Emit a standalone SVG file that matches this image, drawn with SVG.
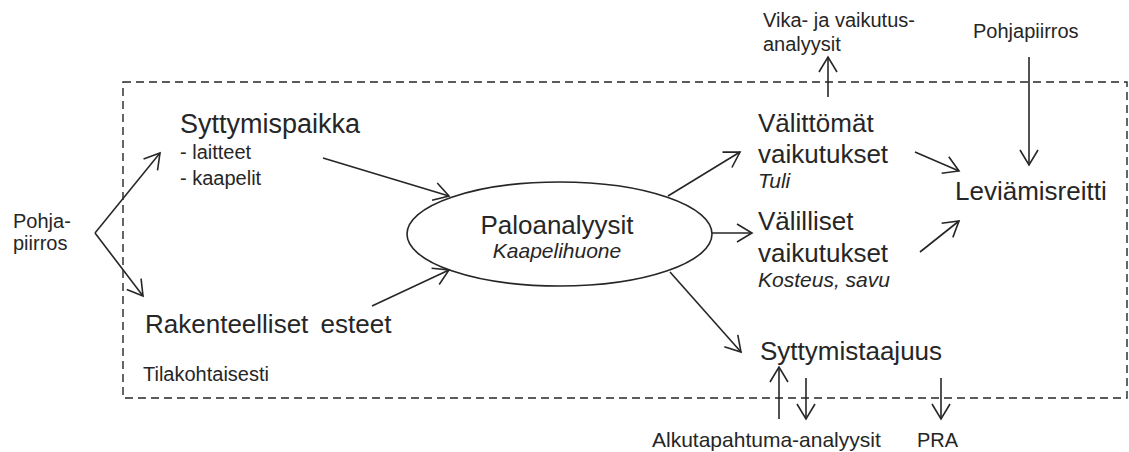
<svg xmlns="http://www.w3.org/2000/svg" width="1129" height="452" viewBox="0 0 1129 452">
  <style>
    text { font-family: "Liberation Sans", Arial, sans-serif; fill: #262626; }
    .big { font-size: 26px; }
    .small { font-size: 20px; }
    .note { font-size: 21px; font-style: italic; }
    .edge { stroke: #262626; stroke-width: 1.6; fill: none; marker-end: url(#arrow); }
    .frame { stroke: #262626; stroke-width: 1.4; fill: none; stroke-dasharray: 8 5; }
  </style>
  <defs>
    <marker id="arrow" markerUnits="userSpaceOnUse" viewBox="-18 -11 20 22" refX="0" refY="0" markerWidth="20" markerHeight="22" orient="auto">
      <path d="M-15,-9 L0,0 L-15,9" fill="none" stroke="#262626" stroke-width="1.6"/>
    </marker>
  </defs>
  <rect width="1129" height="452" fill="#ffffff"/>

  <!-- room boundary -->
  <rect class="frame" x="123" y="82" width="1004" height="316"/>

  <g id="pohjapiirros-left">
    <text class="small" x="13" y="228">Pohja-</text>
    <text class="small" x="13" y="250">piirros</text>
  </g>
  <g id="syttymispaikka">
    <text class="big" x="180" y="133" style="font-size:27px">Syttymispaikka</text>
    <text class="small" x="180" y="159">- laitteet</text>
    <text class="small" x="180" y="185">- kaapelit</text>
  </g>
  <g id="rakenteelliset">
    <text class="big" x="145" y="333" word-spacing="5">Rakenteelliset esteet</text>
  </g>
  <g id="tilakohtaisesti">
    <text class="small" x="143" y="381">Tilakohtaisesti</text>
  </g>
  <g id="paloanalyysit">
    <ellipse cx="559.5" cy="234" rx="152.5" ry="52" fill="#ffffff" stroke="#262626" stroke-width="1.6"/>
    <text class="big" x="557" y="234" text-anchor="middle">Paloanalyysit</text>
    <text class="note" x="557" y="258" text-anchor="middle">Kaapelihuone</text>
  </g>
  <g id="valittomat">
    <text class="big" x="758" y="132">Välittömät</text>
    <text class="big" x="758" y="163">vaikutukset</text>
    <text class="note" x="758" y="188">Tuli</text>
  </g>
  <g id="valilliset">
    <text class="big" x="758" y="230">Välilliset</text>
    <text class="big" x="758" y="262">vaikutukset</text>
    <text class="note" x="758" y="287">Kosteus, savu</text>
  </g>
  <g id="leviamisreitti">
    <text class="big" x="955" y="200">Leviämisreitti</text>
  </g>
  <g id="syttymistaajuus">
    <text class="big" x="760" y="360">Syttymistaajuus</text>
  </g>
  <g id="vika-analyysit">
    <text class="small" x="763" y="27">Vika- ja vaikutus-</text>
    <text class="small" x="763" y="51">analyysit</text>
  </g>
  <g id="pohjapiirros-top">
    <text class="small" x="973" y="38">Pohjapiirros</text>
  </g>
  <g id="alkutapahtuma">
    <text class="small" x="652" y="447" style="font-size:21px">Alkutapahtuma-analyysit</text>
  </g>
  <g id="pra">
    <text class="small" x="917" y="447">PRA</text>
  </g>

  <g id="connectors">
    <line class="edge" x1="95" y1="233" x2="160" y2="153"/>
    <line class="edge" x1="95" y1="233" x2="143" y2="296"/>
    <line class="edge" x1="323" y1="158" x2="449" y2="196"/>
    <line class="edge" x1="372" y1="306" x2="449" y2="270"/>
    <line class="edge" x1="668" y1="196" x2="740" y2="152"/>
    <line class="edge" x1="712" y1="233" x2="752" y2="233"/>
    <line class="edge" x1="670" y1="272" x2="741" y2="352"/>
    <line class="edge" x1="915" y1="152" x2="959" y2="171"/>
    <line class="edge" x1="920" y1="252" x2="959" y2="221"/>
    <line class="edge" x1="1029" y1="57" x2="1029" y2="165"/>
    <line class="edge" x1="828" y1="97" x2="828" y2="57"/>
    <line class="edge" x1="779" y1="419" x2="779" y2="367"/>
    <line class="edge" x1="806" y1="378" x2="806" y2="419"/>
    <line class="edge" x1="941" y1="378" x2="941" y2="419"/>
  </g>
</svg>
